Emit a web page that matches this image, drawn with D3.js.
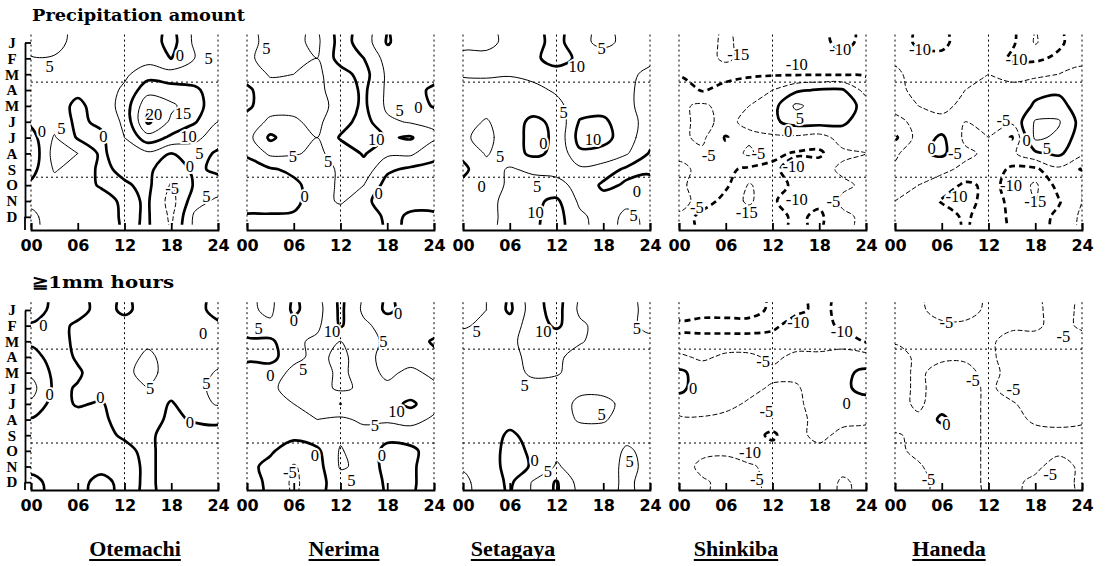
<!DOCTYPE html>
<meta charset="utf-8">
<style>
body { margin: 0; background: #fff; }
svg { display: block; background: #fff; }
.guide { stroke: #000; stroke-width: 1; stroke-dasharray: 2 3; fill: none; }
.c { fill: none; stroke: #000; stroke-linejoin: round; stroke-linecap: round; }
.c.thick { stroke-width: 2.7; }
.c.thin { stroke-width: 1; }
.c.thin.neg { stroke-dasharray: 4 3; }
.c.thick.neg { stroke-dasharray: 6 4; stroke-linecap: butt; }
.lbl { font: 16.5px "Liberation Serif", serif; fill: #000; text-anchor: middle; dominant-baseline: central;
       paint-order: stroke; stroke: #fff; stroke-width: 4px; stroke-linejoin: round; }
.axis path, .axis line { stroke: #000; stroke-width: 1.8; fill: none; }
.xaxis text { font: bold 16px "DejaVu Sans", sans-serif; fill: #000; }
.yaxis text { font: bold 15px "Liberation Serif", serif; fill: #000; }
.title { font: bold 17px "DejaVu Serif", serif; fill: #000; }
.name { font: bold 22px "Liberation Serif", serif; fill: #000; text-anchor: middle; }
</style>
<svg id="chart" width="1106" height="566"></svg>
<script src="https://d3js.org/d3.v7.min.js"></script>
<script>

var months = ["J","F","M","A","M","J","J","A","S","O","N","D"];
var hours = [0, 3, 6, 9, 12, 15, 18, 21, 24];
var hourTicks = [0, 6, 12, 18, 24];
var hourGuides = [0, 12, 24];
var monthGuides = [2.5, 8.5];
var levels = [-20, -15, -10, -5, 0, 5, 10, 15, 20];
var stations = ["Otemachi", "Nerima", "Setagaya", "Shinkiba", "Haneda"];
var rowTitles = ["Precipitation amount", "\u22671mm hours"];

// rows J..D, columns 00,03,...,24 h
var otemachiAmount = [
  [8, 7, 3, 1, 1, 3, -2, 6, 7],
  [4.5, 4.5, 2, 1, 2, 3, -0.1, 5, 7],
  [3, 3, 2, 1, 4, 8, 7, 7, 6],
  [2, 2, 1, 2, 6, 13, 12, 11, 7],
  [1, 2, -1, 2, 7, 19, 16, 12, 7],
  [1, 3, -1, 1, 6, 21, 14, 10.5, 5],
  [-2, 5.5, -0.5, -1, 5, 13, 9, 6, 3],
  [-4, 7, 5, -1, 3, 4, 0, 3, -1],
  [-2, 5.5, 3, -1, 1, 1, -3, 1, -1],
  [1, 3, 2, -0.5, -0.5, 1, -5.5, 0.5, 2],
  [4, 2, 2, 2, -1, 0.5, -7, 3, 6],
  [6, 3, 2, 3, -1, 0.5, -6, 6, 7]
];
var nerimaAmount = [
  [3, 7, 6, 4, 12, 8, -0.5, 3, 3],
  [4, 7, 6, 5, 12, 10, 3, 3, 3],
  [2, 5.5, 5, 4, 8, 12, 4, 3, 2],
  [-1, 3, 3, 4, 7, 11, 4, 2, -1],
  [-1, 3, 4, 3, 7, 11, 4, 3, -0.5],
  [2, 6, 5.5, 4, 8, 12, 6, 4.5, 4],
  [3, 11, 7, 5, 10.5, 13, 9.5, 10.5, 6],
  [0.5, 6, 5.5, 4, 7, 10.5, 6, 6, 1],
  [-1.5, -0.5, 1, 2, 6, 8, 1, -1, -1],
  [-2, -1, -1, 2, 6, 5, -2, -1, -1],
  [-2, -2, -1, 2, 6, 1, -2, -1, -1],
  [0.5, 0.5, 0.5, 1, 1, 3, -1, 0.5, 0.5]
];
var setagayaAmount = [
  [4, 4, 6, 8, 12, 6, 4, 6, 7],
  [6, 6, 7, 9, 12, 9, 7, 6, 6],
  [5.5, 6, 5.5, 6, 8, 8, 7, 6, 4],
  [3, 2, 2, 4, 5.5, 7, 7, 6, 3],
  [2, 3, 2, 2, 4, 7, 8, 6, 3],
  [3, 5.5, 2, -1, 1, 10.5, 11, 7, 3],
  [4.5, 6, 3, -2, 1, 12, 12, 7, 2],
  [1, 5.5, 2, -1, 1, 9, 8, 5.5, -0.5],
  [-1, 3, 5.5, 4, 4, 4, 3, -1, -1],
  [1, 2, 6, 7, 6, 4, -1, 0.5, 2],
  [2, 3, 7, 9, 11, 4, 2, 4, 3],
  [3, 4, 6, 9, 12, 6, 3, 6, 4]
];
var shinkibaAmount = [
  [-11, -13, -16, -13, -12, -12, -11, -9, -11],
  [-12, -13, -16, -13, -12, -12, -12, -11, -12],
  [-10.5, -11, -12, -11, -10.5, -10.5, -10.5, -10.5, -10.5],
  [-7, -10.5, -8, -6, -5, -1, 0.5, 0.5, -7],
  [-6, -4, -7, -5, -2, 6, 3, 3, -2],
  [-6, -4, -6, -4, -1, 2, 2, 1, -3],
  [-6, -4, -10.5, -6, -6, -6, -7, -3, -4],
  [-6, -6, -8, -4, -9, -10.5, -11, -6, -5],
  [-4, -6, -9, -11, -11, -8, -7, -4, -3],
  [-4, -7, -9, -15.5, -12, -9, -9, -6, -4],
  [-3, -7, -12, -16, -10.5, -8, -9, -4, -3],
  [-6, -12, -12, -12, -12, -9, -11, -6, -4]
];
var hanedaAmount = [
  [-7, -11, -11, -8, -7, -9, -15.5, -11, -7],
  [-6, -8, -9, -7, -6, -11, -11, -9, -6],
  [-4, -7, -7, -6, -5, -6, -6, -5, -4],
  [-4, -6, -6, -5, -4, -4, -2, -1, -4],
  [-4, -5, -6, -4, -4, -5, 1, 2, -3],
  [-6, -4, -4, -5, -4, -4, 5.5, 5.5, -2],
  [-11, -3, 1, -6, -5, -10.5, 6, 4, -3],
  [-6, -1, 1, -4, -6, -6, -1, 1, -4],
  [-4, -4, -4, -6, -7, -11, -11, -6, -10.5],
  [-4, -5, -7, -11, -9, -11, -16, -8, -5],
  [-5, -6, -10.5, -12, -8, -11, -15, -10.5, -5],
  [-6, -8, -7, -11, -7, -11, -12, -9, -4]
];

var otemachiHours = [
  [2, -1, -2, 2, -1, 2, 2, 1, -1],
  [-0.5, -2, 1, 3, 2, 3, 3, 0.5, 0.5],
  [-1, -2, 1, 3, 3, 4, 3, 2, 2],
  [2, -2, 0.5, 3, 3, 6, 3, 2, 3],
  [4, -1, -0.5, 2, 4, 6.5, 3, 3, 5.5],
  [7, -1, 0.3, 2, 4, 5, 2, 4, 6],
  [4, -2, 0.5, -0.5, 3, 3, -0.5, 3, 5.5],
  [-0.5, -3, -2, -1, 2, 2, -1, 0.5, 0.5],
  [-1, -3, -2, -1, 0.5, 1, -2, -2, -1],
  [-1, -3, -2, -1, -1, 1, -2, -2, -1],
  [-1, -2, -2, -1, -1, 0.5, -1, -2, -1],
  [1, -1, -1, 1, -1, 0.5, -1, -1, -1]
];
var nerimaHours = [
  [4, 6, -1, 3, 11, 4, -1, 2, 4],
  [3, 4, 2, 4, 10.5, 6, 3, 4, 4],
  [-1, -1, 4, 6, 5, 7, 4, 4, -1],
  [-1, -2, 4, 6, 4, 7, 3, 3, 2],
  [2, 3, 6, 7, 4, 7, 4, 6, 4],
  [4, 4, 7, 7, 4, 6, 6, 7, 6],
  [4, 3, 5, 6, 10, 6, 8, 11, 7],
  [2, 2, 3, 5, 4, 6, 6, 7, 4],
  [2, 2, 1, 3, 4, 3, 1, 2, 3],
  [2, 0.5, -2, -1, 5.5, 2, -1, -1, 2],
  [1, -1, -5.5, -2, 5.5, 4, -2, -1, 3],
  [2, -1, -6, -2, 3, 4, -1, -1, 3]
];
var setagayaHours = [
  [6, 5, -1, 8, 12, 4, 3, 4, 6],
  [5.5, 4, 3, 7, 11, 6, 3, 4, 6],
  [3, 3, 4, 7, 6, 5.5, 3, 4, 4],
  [3, 3, 4, 6, 6, 3, 3, 3, 3],
  [3, 3, 4, 5.5, 5.5, 3, 3, 3, 3],
  [3, 3, 3, 4, 3, 4, 4, 3, 3],
  [3, 3, 3, 3, 3, 6, 6, 4, 3],
  [3, 3, 2, 3, 3, 5.5, 5.5, 3, 3],
  [3, 3, -1, 2, 3, 3, 3, 4, 4],
  [4, 3, -2, 1, 4, 3, 3, 5.5, 4],
  [4.5, 3, -2, 0.5, 5.5, 3, 3, 6, 4],
  [6, 3, -1, 5.5, 10.5, 3, 3, 6, 3]
];
var shinkibaHours = [
  [-8, -8, -8, -8, -11, -11, -9, -11, -11],
  [-11, -12, -12, -12, -11, -8, -8, -11, -11],
  [-9, -8, -8, -8, -8, -7, -7, -7, -10.5],
  [-4, -6, -4, -4, -6, -4, -4, -3, -3],
  [1, -2, -3, -3, -4, -4, -3, -1, 1],
  [1, -2, -3, -4, -5.5, -5.5, -3, -1, 1.5],
  [-2, -3, -4, -5.5, -6, -6, -3, -3, -2],
  [-6, -5.5, -6, -6, -7, -6, -4, -4, -4.5],
  [-6, -6, -7, -8, -11, -6, -4, -6, -6],
  [-6, -6, -5.5, -7, -8, -7, -6, -6, -6],
  [-7, -4, -4, -4.5, -6, -7, -7, -6, -7],
  [-7, -5.5, -4, -4, -6, -7, -7, -4.5, -6]
];
var hanedaHours = [
  [-6, -6, -3, -3, -6, -6, -6, -3, -6],
  [-6, -6, -6, -6, -6, -6, -6, -3, -6],
  [-5.5, -6, -6, -6, -6, -3, -3, -3, -3],
  [-3, -6, -6, -5.5, -6, -3, -3, -3, -3],
  [-3, -6, -3, -4, -6, -4, -3, -3, -3],
  [-3, -6, -3, -3, -6, -3, -3, -3, -3],
  [-3, -6, -2, -3, -6, -5.5, -3, -3, -3],
  [-3, -4, 1, -3, -6, -6, -4.5, -4, -4.5],
  [-5.5, -4, -3, -3, -6, -6, -6, -6, -6],
  [-6, -4, -3, -3, -6, -6, -6, -6, -6],
  [-6, -5.5, -3, -3, -6, -6, -6, -3, -6],
  [-7, -6, -4, -3, -6, -6, -4, -3, -6]
];

// contour labels: [value, hour, month index]
var otemachiAmountLabels = [[5,2.4,1.5],[0,19.1,0.8],[5,22.8,1.0],[20,15.8,4.55],[15,19.5,4.5],[10,20.2,5.95],[5,21.6,7.0],[0,20.4,7.8],[0,1.4,5.6],[5,3.9,5.4],[0,9.3,5.9],[-5,18.1,9.2],[5,22.5,9.7]];
var nerimaAmountLabels = [[5,2.5,0.35],[5,5.9,7.2],[10,16.6,6.1],[5,10.4,7.5],[5,19.6,4.3],[0,22,4.1],[0,7.4,9.7],[0,16.9,9.5]];
var setagayaAmountLabels = [[5,17.8,0.35],[10,14.6,1.5],[5,12.9,4.4],[0,10.3,6.4],[10,16.7,6.1],[5,4.75,7.2],[0,2.4,9.1],[5,9.5,9.1],[10,9.3,10.7],[0,22.3,9.4],[5,21.9,10.9]];
var shinkibaAmountLabels = [[-15,7.6,0.75],[-10,20.7,0.45],[-10,15.1,1.4],[5,15.5,4.8],[0,14,5.6],[-5,3.8,7.1],[-5,10.2,7.0],[-10,14.7,7.8],[-5,2.3,10.4],[-15,8.7,10.7],[-10,15.1,9.9],[-5,19.8,10.0]];
var hanedaAmountLabels = [[-10,3.2,0.45],[-10,15.6,1.1],[-5,13.9,4.9],[0,16.9,6.2],[5,19.5,6.7],[0,4.7,6.7],[-5,7.7,7.0],[-10,7.9,9.7],[-10,14.9,9.0],[-15,18.0,10.0]];
var otemachiHoursLabels = [[0,1.6,1.0],[0,2.4,5.4],[0,8.9,5.6],[5,15.3,5.0],[5,22.5,4.7],[0,20.4,7.2],[0,22.1,1.5]];
var nerimaHoursLabels = [[5,1.5,1.2],[0,6,0.7],[10,10.9,1.4],[0,19.4,0.25],[5,17.5,2.0],[0,3,4.2],[5,7.2,3.8],[10,19.2,6.5],[5,16.4,7.4],[0,8.7,9.3],[-5,5.5,10.4],[0,17.3,9.3],[5,13.4,10.9]];
var setagayaHoursLabels = [[5,1.75,1.4],[10,10.3,1.4],[5,22.3,1.2],[5,7.9,4.8],[5,17.8,6.7],[0,9.2,9.6],[5,10.9,10.3],[5,21.4,9.7]];
var shinkibaHoursLabels = [[-10,15.3,0.8],[-10,20.9,1.4],[-5,10.8,3.3],[0,1.8,5.0],[0,21.5,6.0],[-5,11.2,6.5],[-10,9.1,9.1],[-5,10,10.8]];
var hanedaHoursLabels = [[-5,6.6,0.8],[-5,21.6,1.7],[-5,10,4.5],[-5,15.2,5.1],[0,6.6,7.3],[-5,4.3,10.8],[-5,19.9,10.5]];

var grids = [
  [otemachiAmount, nerimaAmount, setagayaAmount, shinkibaAmount, hanedaAmount],
  [otemachiHours, nerimaHours, setagayaHours, shinkibaHours, hanedaHours]
];
var labelSets = [
  [otemachiAmountLabels, nerimaAmountLabels, setagayaAmountLabels, shinkibaAmountLabels, hanedaAmountLabels],
  [otemachiHoursLabels, nerimaHoursLabels, setagayaHoursLabels, shinkibaHoursLabels, hanedaHoursLabels]
];

var svg = d3.select("#chart");
var rows = [
  {title: 21, titleLen: 213, first: 42.5, step: 15.85, base: 230},
  {title: 288, titleLen: 142, first: 310, step: 15.65, base: 490}
];
var left0 = 31, pitch = 216, pw = 187;
var nameX = [135, 344, 513, 736, 949];

function lineClass(v) {
  return "c " + (v % 10 === 0 ? "thick" : "thin") + (v < 0 ? " neg" : "");
}

rows.forEach(function(row, r) {
  svg.append("text").attr("class", "title")
    .attr("x", 32).attr("y", row.title)
    .attr("textLength", row.titleLen).attr("lengthAdjust", "spacingAndGlyphs")
    .text(rowTitles[r]);

  stations.forEach(function(st, i) {
    var left = left0 + i * pitch;
    var x = d3.scaleLinear().domain([0, 24]).range([left, left + pw]);
    var y = d3.scaleLinear().domain([0, 11]).range([row.first, row.first + 11 * row.step]);
    var top = y(-0.5), bottom = y(11.5);
    var g = svg.append("g");

    // dotted guides
    g.selectAll(".vg").data(hourGuides).join("line").attr("class", "guide")
      .attr("x1", d => x(d)).attr("x2", d => x(d)).attr("y1", top).attr("y2", row.base);
    g.selectAll(".hg").data(monthGuides).join("line").attr("class", "guide")
      .attr("x1", x(0)).attr("x2", x(24)).attr("y1", d => y(d)).attr("y2", d => y(d));

    // contours (grid padded by repeating first/last month so edges stay open)
    var grid = grids[r][i];
    var padded = [grid[0]].concat(grid, [grid[grid.length - 1]]);
    var flat = [].concat.apply([], padded);
    var sets = d3.contours().size([hours.length, padded.length]).thresholds(levels)(flat);
    var cx = d3.scaleLinear().domain([0.5, hours.length - 0.5]).range([x(0), x(24)]);
    var ring = d3.line().x(p => cx(p[0])).y(p => y(p[1] - 1.5)).curve(d3.curveCatmullRomClosed.alpha(0.5));
    function shape(mp) {
      return mp.coordinates.map(poly => poly.map(rg => ring(rg.slice(0, -1))).join("")).join("");
    }
    var clipId = "clip" + r + "_" + i;
    g.append("clipPath").attr("id", clipId).append("rect")
      .attr("x", x(0)).attr("y", top).attr("width", x(24) - x(0)).attr("height", bottom - top);
    g.append("g").attr("clip-path", "url(#" + clipId + ")")
      .selectAll("path").data(sets.filter(d => d.coordinates.length)).join("path")
      .attr("class", d => lineClass(d.value))
      .attr("d", shape);

    // contour labels
    g.selectAll(".lbl").data(labelSets[r][i]).join("text").attr("class", "lbl")
      .attr("x", d => x(d[1])).attr("y", d => y(d[2]))
      .text(d => d[0]);

    // hour axis
    g.append("g").attr("class", "axis xaxis")
      .attr("transform", "translate(0," + row.base + ")")
      .call(d3.axisBottom(x).tickValues(hourTicks).tickSize(-7).tickSizeOuter(-7)
        .tickPadding(10).tickFormat(d3.format("02d")));

    // month axis on the first panel only
    if (i === 0) {
      var ya = g.append("g").attr("class", "axis yaxis")
        .attr("transform", "translate(" + (left - 6) + ",0)")
        .call(d3.axisLeft(y).tickValues(d3.range(months.length)).tickSize(-6).tickSizeOuter(0)
          .tickFormat(d => months[d]));
      ya.selectAll("text").attr("x", -13).attr("text-anchor", "middle");
      ya.append("line").attr("x1", 0).attr("x2", 0).attr("y1", y(11)).attr("y2", row.base);
    }

    // station names under the lower row
    if (r === 1) {
      var t = svg.append("text").attr("class", "name")
        .attr("x", nameX[i]).attr("y", 556).text(st);
      var w = t.node().getComputedTextLength();
      svg.append("line").attr("x1", nameX[i] - w / 2).attr("x2", nameX[i] + w / 2)
        .attr("y1", 560).attr("y2", 560).attr("stroke", "#000").attr("stroke-width", 2);
    }
  });
});

</script>
